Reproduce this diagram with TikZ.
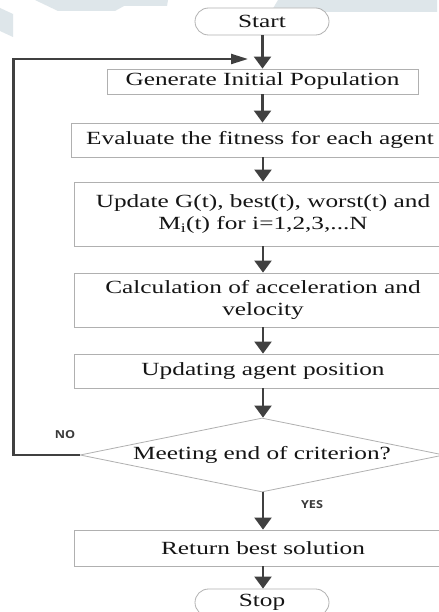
\documentclass[tikz,border=0pt]{standalone}
\usepackage{fontspec}
\setmainfont{Liberation Serif}[FakeStretch=1.36]
\newfontfamily\labelfont{Open Sans}[FakeStretch=1.15]
\usetikzlibrary{shapes.geometric,arrows.meta}
\definecolor{boxline}{HTML}{B0B0B0}
\definecolor{flowline}{HTML}{404040}
\definecolor{wmark}{HTML}{DEE6EA}
\definecolor{ink}{HTML}{151515}
\tikzset{
  proc/.style={draw=boxline, line width=0.8bp, fill=white, align=center,
    inner sep=0pt, text=ink, minimum width=378bp,
    font=\fontsize{18.6bp}{22bp}\selectfont},
  term/.style={proc, rounded corners=13.5bp, minimum width=134bp,
    minimum height=27bp},
  decision/.style={proc, diamond, aspect=4.9, minimum width=364bp,
    minimum height=74bp},
  flow/.style={draw=flowline, line width=2.2bp,
    -{Triangle[length=12bp,width=17bp]}},
  loopback/.style={draw=flowline, line width=2.2bp,
    -{Triangle[length=17bp,width=10bp]}},
  lbl/.style={text=flowline!90!black,
    font=\labelfont\bfseries\fontsize{11bp}{13bp}\selectfont, inner sep=0pt}
}
\begin{document}
\begin{tikzpicture}[x=1bp,y=-1bp]
\useasboundingbox (0,0) rectangle (439,612);
\fill[white] (0,0) rectangle (439,612);

% faint background watermark along the top edge
\fill[wmark] (0,8) -- (13,14) -- (13,37) -- (0,31) -- cycle;
\fill[wmark] (35,0) -- (58,11) -- (115,11) -- (124,6) -- (167,6) -- (168,0) -- cycle;
\fill[wmark] (278,0) -- (265,22) -- (289,22) -- (322,12) -- (437,12) -- (437,0) -- cycle;

% flowchart nodes
\node[term] (start) at (262,21.5) {Start};
\node[proc, minimum width=311bp, minimum height=25bp] (gen) at (262.5,81.5)
  {Generate Initial Population};
\node[proc, minimum height=34bp] (eval) at (260,140)
  {Evaluate the fitness for each agent};
\node[proc, minimum height=64bp] (upd) at (263,214)
  {Update G(t), best(t), worst(t) and\\
   M\textsubscript{i}(t) for i=1,2,3,...N};
\node[proc, minimum height=54bp] (calc) at (263,300)
  {Calculation of acceleration and\\ velocity};
\node[proc, minimum height=34bp] (pos) at (263,371)
  {Updating agent position};
\node[decision] (dec) at (262,455) {Meeting end of criterion?};
\node[proc, minimum height=36bp] (ret) at (263,548) {Return best solution};
\node[term] (stop) at (262,602.5) {Stop};

\node[lbl] (no) at (65,435) {NO};
\node[lbl] (yes) at (312,505) {YES};

% connectors
\draw[flow] (start.south -| gen.north) -- (gen.north);
\draw[flow] (gen.south) -- (eval.north -| gen.south);
\draw[flow] (eval.south -| upd.north) -- (upd.north);
\draw[flow] (upd.south) -- (calc.north);
\draw[flow] (calc.south) -- (pos.north);
\draw[flow] (pos.south) -- (dec.north -| pos.south);
\draw[flow] (dec.south -| ret.north) -- (ret.north);
\draw[flow] (ret.south) -- (stop.north -| ret.south);

\coordinate (back) at (248,59);
\draw[loopback] (dec.west) -- ++(-66,0) |- (back);
\end{tikzpicture}
\end{document}
